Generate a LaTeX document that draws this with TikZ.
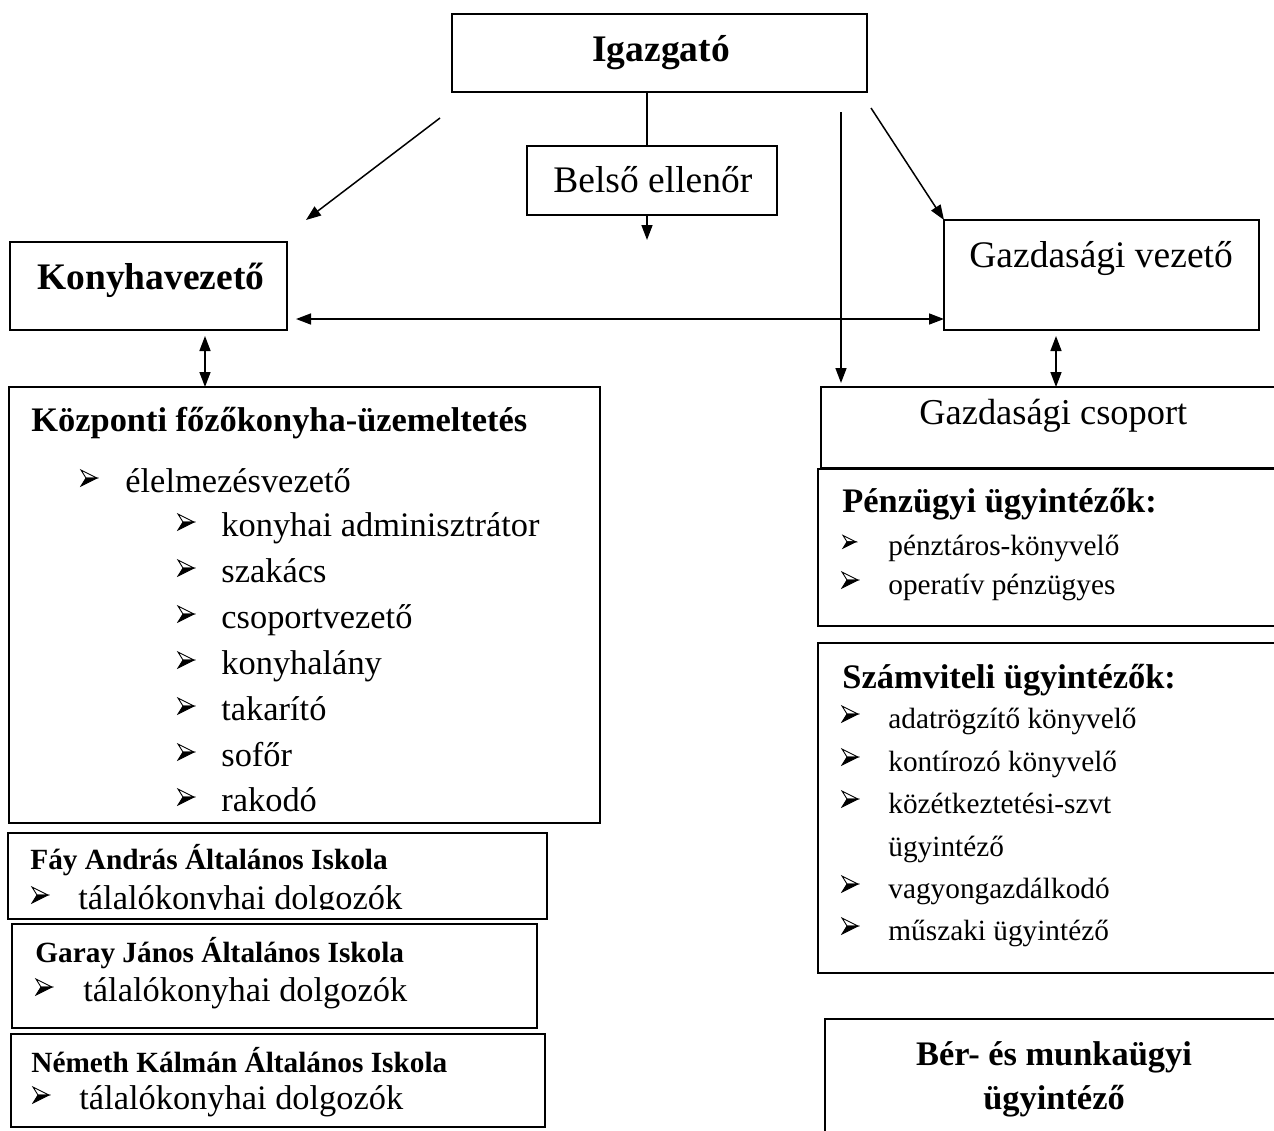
\documentclass[tikz,border=0pt]{standalone}
\usepackage{fontspec}
\setmainfont{Liberation Serif}
\usetikzlibrary{arrows.meta,fit,calc}
\begin{document}
\begin{tikzpicture}[x=0.5pt,y=-0.5pt,
  box/.style={draw, line width=1pt, inner sep=0pt, outer sep=0pt},
  ln/.style={line width=0.75pt},
  arr/.style={ln, -{Triangle[length=7.5pt,width=5.5pt]}},
  darr/.style={ln, {Triangle[length=7.5pt,width=5.5pt]}-{Triangle[length=7.5pt,width=5.5pt]}},
  tbig/.style={anchor=base west, inner sep=0pt, font=\fontsize{18.75}{22}\selectfont},
  tbigb/.style={anchor=base west, inner sep=0pt, font=\fontsize{18.75}{22}\selectfont\bfseries},
  tmid/.style={anchor=base west, inner sep=0pt, font=\fontsize{17.2}{20}\selectfont},
  tmidb/.style={anchor=base west, inner sep=0pt, font=\fontsize{17.2}{20}\selectfont\bfseries},
  tmidbc/.style={anchor=base, inner sep=0pt, font=\fontsize{17.2}{20}\selectfont\bfseries},
  tsml/.style={anchor=base west, inner sep=0pt, font=\fontsize{14.65}{17}\selectfont},
  tsmlb/.style={anchor=base west, inner sep=0pt, font=\fontsize{14.65}{17}\selectfont\bfseries},
  bullet/.pic={
    \draw[line width=0.45pt, line join=miter] (0,-22) -- (16,-14) -- (5,-14) -- cycle;
    \filldraw[line width=0.45pt, line join=miter] (5,-14) -- (16,-14) -- (0,-6) -- cycle;
  }
]
\useasboundingbox (0,0) rectangle (1274,1130);
\fill[white] (0,0) rectangle (1274,1130);
\clip (0,0) rectangle (1274,1130);

% ---------- boxes ----------
\node[box, fit={(452,14) (867,92)}] (igz) {};
\node[box, fit={(527,146) (777,215)}] (bel) {};
\node[box, fit={(10,242) (287,330)}] (kv) {};
\node[box, fit={(944,220) (1259,330)}] (gv) {};
\node[box, fit={(9,387) (600,823)}] (kp) {};
\node[box, fit={(8,833) (547,919)}] (fay) {};
\node[box, fit={(12,924) (537,1028)}] (gar) {};
\node[box, fit={(11,1034) (545,1127)}] (nem) {};
\node[box, fit={(821,387) (1290,468)}] (gcs) {};
\node[box, fit={(818,469) (1290,626)}] (pu) {};
\node[box, fit={(818,643) (1290,973)}] (sz) {};
\node[box, fit={(825,1019) (1290,1150)}] (ber) {};

% ---------- texts ----------
\node[tbigb] (tigz) at (592,61) {Igazgató};
\node[tbig] (tbel) at (553,192) {Belső ellenőr};
\node[tbigb] (tkv) at (37,289) {Konyhavezető};
\node[tbig] (tgv) at (969,267) {Gazdasági vezető};
\node[tbig, font=\fontsize{18.2}{22}\selectfont] (tgcs) at (919,424) {Gazdasági csoport};

\node[tmidb] (tkp) at (31,431) {Központi főzőkonyha-üzemeltetés};
\pic at (81,492) {bullet};
\node[tmid] (i0) at (125,492) {élelmezésvezető};
\foreach \t/\yy [count=\k] in {konyhai adminisztrátor/536, szakács/582, csoportvezető/628, konyhalány/674, takarító/720, sofőr/766, rakodó/811}{
  \pic at (178,\yy) {bullet};
  \node[tmid] (ik\k) at (221,\yy) {\t};
}

\node[tsmlb] (tfay) at (30,869) {Fáy András Általános Iskola};
\begin{scope}
  \clip (8,833) rectangle (547,909);
  \pic at (32,909) {bullet};
  \node[tmid] (ifay) at (78,909) {tálalókonyhai dolgozók};
\end{scope}
\node[tsmlb] (tgar) at (35,962) {Garay János Általános Iskola};
\pic at (36,1001) {bullet};
\node[tmid] (igar) at (83,1001) {tálalókonyhai dolgozók};
\node[tsmlb] (tnem) at (31,1072) {Németh Kálmán Általános Iskola};
\pic at (33,1109) {bullet};
\node[tmid] (inem) at (79,1109) {tálalókonyhai dolgozók};

\node[tmidb] (tpu) at (842,512) {Pénzügyi ügyintézők:};
\pic[scale=0.8] at (843,553) {bullet};
\node[tsml] (ip1) at (888,555) {pénztáros-könyvelő};
\pic at (842,594) {bullet};
\node[tsml] (ip2) at (888,594) {operatív pénzügyes};

\node[tmidb] (tsz) at (842,688) {Számviteli ügyintézők:};
\pic at (842,728) {bullet};
\node[tsml] (is1) at (888,728) {adatrögzítő könyvelő};
\pic at (842,771) {bullet};
\node[tsml] (is2) at (888,771) {kontírozó könyvelő};
\pic at (842,813) {bullet};
\node[tsml] (is3) at (888,813) {közétkeztetési-szvt};
\node[tsml] (is3b) at (888,856) {ügyintéző};
\pic at (842,898) {bullet};
\node[tsml] (is4) at (888,898) {vagyongazdálkodó};
\pic at (842,940) {bullet};
\node[tsml] (is5) at (888,940) {műszaki ügyintéző};

\node[tmidbc] (tber1) at (1054,1065) {Bér- és munkaügyi};
\node[tmidbc] (tber2) at (1054,1109) {ügyintéző};

% ---------- free connector ends ----------
\coordinate (dl1) at (440,118);
\coordinate (dl2) at (306,220);
\coordinate (dr1) at (871,108);
\coordinate (vv1) at (841,112);
\coordinate (vv2) at (841,383);
\coordinate (belend) at (647,240);
\coordinate (hh1) at (296,319);
\coordinate (kk1) at (205,336);
\coordinate (gg1) at (1056,336);

% ---------- connectors ----------
\draw[ln] ($(igz.south)+(-12.5,0)$) -- ($(bel.north)+(-5,0)$);
\draw[arr] ($(bel.south)+(-5,0)$) -- (belend);
\draw[arr] (dl1) -- (dl2);
\draw[arr] (dr1) -- (gv.north west);
\draw[arr] (vv1) -- (vv2);
\draw[darr] (hh1) -- (hh1 -| gv.west);
\draw[darr] (kk1) -- (kk1 |- kp.north);
\draw[darr] (gg1) -- (gg1 |- gcs.north);
\end{tikzpicture}
\end{document}
